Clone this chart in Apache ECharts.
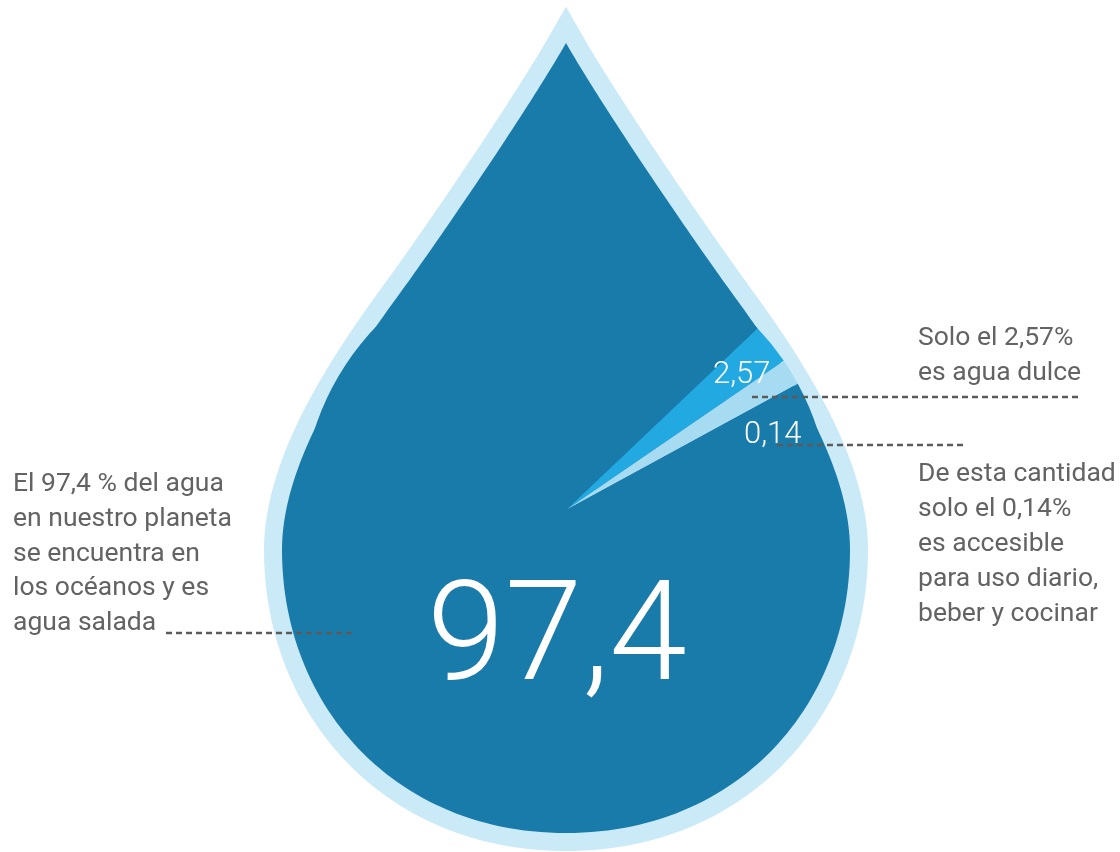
<!DOCTYPE html>
<html>
<head>
<meta charset="utf-8">
<script src="https://cdn.jsdelivr.net/npm/echarts@6/dist/echarts.min.js"></script>
<style>
html,body{margin:0;padding:0;background:#ffffff;}
#c{width:1120px;height:852px;}
</style>
</head>
<body>
<div id="c"></div>
<script>
// ---- data ----
const categories = ['Agua dulce', 'Agua accesible', 'Agua salada'];
const values = [2.57, 0.14, 97.4];
const sliceColors = ['#22a9e1', '#a7dbf2', '#187baa'];
const leftText = ['El 97,4 % del agua', 'en nuestro planeta', 'se encuentra en', 'los océanos y es', 'agua salada'];
const rightTopText = ['Solo el 2,57%', 'es agua dulce'];
const rightBottomText = ['De esta cantidad', 'solo el 0,14%', 'es accesible', 'para uso diario,', 'beber y cocinar'];

// ---- decorative drop outline (inner edge, right half, cubic segments) ----
const CX = 566;
const dropTip = [566, 43];
const dropSegments = [
  [[600.2, 103], [685.9, 230], [737, 300]],
  [[795.4, 380], [850, 470], [850, 550]],
  [[850, 705], [738, 833], [566, 833]]
];

function sampleHalf() {
  const pts = [dropTip.slice()];
  let p0 = dropTip;
  dropSegments.forEach(seg => {
    const [p1, p2, p3] = seg;
    const n = 60;
    for (let i = 1; i <= n; i++) {
      const t = i / n, u = 1 - t;
      const a = u * u * u, b = 3 * u * u * t, c = 3 * u * t * t, d = t * t * t;
      pts.push([a * p0[0] + b * p1[0] + c * p2[0] + d * p3[0],
                a * p0[1] + b * p1[1] + c * p2[1] + d * p3[1]]);
    }
    p0 = p3;
  });
  return pts;
}
const right = sampleHalf();
const left = right.slice(1, right.length - 1).map(p => [2 * CX - p[0], p[1]]).reverse();
const dropPoints = right.concat(left);

const fmt = v => String(v).replace('.', ',');
const textColor = '#636363';
const DESC_FS = 26.5;
const descFont = DESC_FS + 'px Roboto, "Noto Sans", sans-serif';
const BASE_K = 0.26; // baseline offset relative to 'middle'

function lines(arr, x, firstBaseline, step) {
  return arr.map((t, i) => ({
    type: 'text', z: 20, silent: true,
    x: x, y: firstBaseline + i * step - BASE_K * DESC_FS,
    style: { text: t, fill: textColor, font: descFont, textAlign: 'left', textVerticalAlign: 'middle' }
  }));
}

function dash(x1, y1, x2, y2) {
  return { type: 'line', z: 20, silent: true,
    shape: { x1: x1, y1: y1, x2: x2, y2: y2 },
    style: { stroke: '#5b5b5b', lineWidth: 2.5, lineDash: [6, 4] } };
}

function valueLabel(v, x, baseline, fs) {
  return { type: 'text', z: 20, silent: true, x: x, y: baseline - BASE_K * fs,
    style: { text: fmt(v), fill: '#ffffff', font: '300 ' + fs + 'px Roboto, sans-serif', textAlign: 'center', textVerticalAlign: 'middle' } };
}

const chart = echarts.init(document.getElementById('c'), null, { renderer: 'canvas' });
chart.setOption({
  animation: false,
  backgroundColor: '#ffffff',
  graphic: { elements: [
    { type: 'polygon', z: 0, silent: true, shape: { points: dropPoints },
      style: { fill: '#cbeaf8', stroke: '#cbeaf8', lineWidth: 36, lineJoin: 'miter', miterLimit: 10 } },
    { type: 'polygon', z: 1, silent: true, shape: { points: dropPoints },
      style: { fill: sliceColors[2] } },
    valueLabel(values[2], 557, 680, 140),
    valueLabel(values[0], 741.7, 383.3, 31),
    valueLabel(values[1], 772.7, 443.3, 31),
    dash(166, 633, 354, 633),
    dash(752, 397, 1080, 397),
    dash(777, 445, 964, 445)
  ].concat(lines(leftText, 13, 491.7, 34.65))
   .concat(lines(rightTopText, 918, 345, 35))
   .concat(lines(rightBottomText, 918, 481.7, 35)) },
  series: [{
    type: 'pie',
    z: 2,
    silent: true,
    center: [566, 510],
    radius: [0, 264],
    startAngle: 43.5,
    clockwise: true,
    minAngle: 5.8,
    avoidLabelOverlap: false,
    label: { show: false },
    labelLine: { show: false },
    emphasis: { disabled: true },
    itemStyle: { borderWidth: 0 },
    data: categories.map((n, i) => ({ name: n, value: values[i], itemStyle: { color: sliceColors[i] } }))
  }]
});
</script>
</body>
</html>
